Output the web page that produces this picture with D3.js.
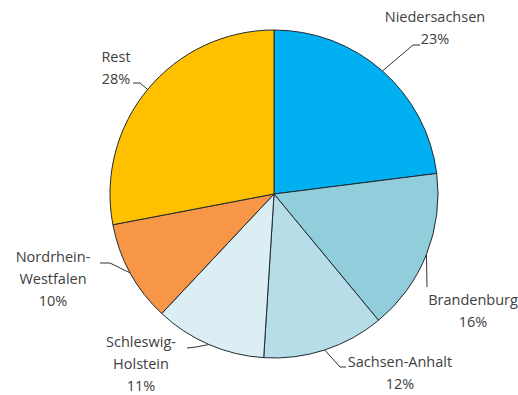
<!DOCTYPE html>
<html>
<head>
<meta charset="utf-8">
<script src="https://cdn.jsdelivr.net/npm/d3@7"></script>
<style>
  body { margin: 0; background: #fff; }
  text { font-family: "Open Sans", sans-serif; font-size: 14.5px; fill: #404040; }
</style>
</head>
<body>
<script>
var labels = [['Niedersachsen'], ['Brandenburg'], ['Sachsen-Anhalt'], ['Schleswig-', 'Holstein'], ['Nordrhein-', 'Westfalen'], ['Rest']]
var values = [23, 16, 12, 11, 10, 28]
var colors = ['#00b0f0', '#92cddc', '#b7dee8', '#daeef3', '#f79646', '#ffc000']

// label placement: text anchor point (centre of first line) and leader elbow
var layout = [
  { tx: 435, ty: 22, elbow: [[413, 45], [420, 45]] },
  { tx: 473, ty: 305, elbow: [[427, 287]] },
  { tx: 400, ty: 367, elbow: [[340, 367], [346, 367]] },
  { tx: 141, ty: 347, elbow: [[196, 347], [187, 348]] },
  { tx: 53, ty: 262, elbow: [[110, 263], [100, 263]] },
  { tx: 116, ty: 62, elbow: [[140, 83], [133, 83]] }
]

var width = 518, height = 395
var cx = 274, cy = 194, r = 164

var svg = d3.select('body').append('svg')
  .attr('width', width)
  .attr('height', height)

var pie = d3.pie().sort(null).value(d => d)
var arcs = pie(values)
var arc = d3.arc().innerRadius(0).outerRadius(r)

var g = svg.append('g').attr('transform', `translate(${cx},${cy})`)

g.selectAll('path')
  .data(arcs)
  .enter().append('path')
    .attr('d', arc)
    .attr('fill', (d, i) => colors[i])
    .attr('stroke', '#1f2a30')
    .attr('stroke-width', 1)

// leader lines from slice edge to the label
svg.selectAll('.leader')
  .data(arcs)
  .enter().append('path')
    .attr('class', 'leader')
    .attr('fill', 'none')
    .attr('stroke', '#333')
    .attr('stroke-width', 1)
    .attr('d', (d, i) => {
      var a = (d.startAngle + d.endAngle) / 2
      var p = [[cx + r * Math.sin(a), cy - r * Math.cos(a)]].concat(layout[i].elbow)
      return d3.line()(p)
    })

svg.selectAll('.lbl')
  .data(arcs)
  .enter().append('text')
    .attr('class', 'lbl')
    .attr('text-anchor', 'middle')
    .each(function (d, i) {
      var lines = labels[i].concat([values[i] + '%'])
      var t = d3.select(this)
      lines.forEach((s, j) => {
        t.append('tspan')
          .attr('x', layout[i].tx)
          .attr('y', layout[i].ty + j * 22)
          .text(s)
      })
    })
</script>
</body>
</html>
